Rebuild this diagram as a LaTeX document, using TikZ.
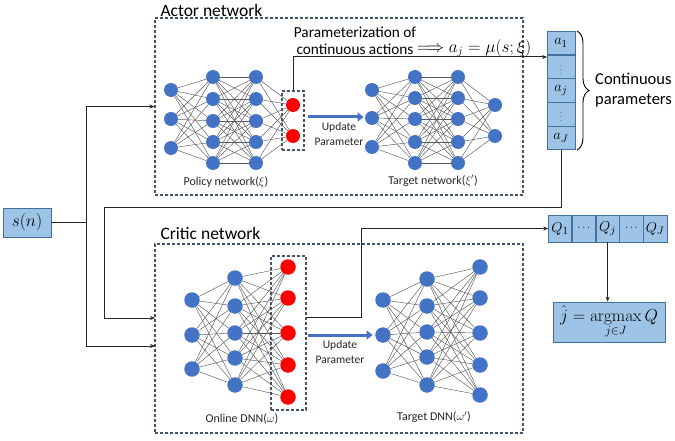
\documentclass[tikz,border=0pt]{standalone}
\usepackage[no-math]{fontspec}
\setmainfont{Carlito}
\usetikzlibrary{arrows.meta,decorations.pathreplacing,calc}
\definecolor{nblue}{HTML}{4472C4}
\definecolor{bfill}{HTML}{9DC3E6}
\definecolor{bline}{HTML}{41719C}
\definecolor{dline}{HTML}{44546A}
\newcommand{\mklayer}[4]{\foreach \yy [count=\ii] in {#3} {\node[#4] (#1-\ii) at (#2,\yy) {};}}
\newcommand{\mkconn}[4]{\foreach \ii in {1,...,#2} {\foreach \jj in {1,...,#4} {\draw[wire] (#1-\ii) -- (#3-\jj);}}}
\begin{document}
\begin{tikzpicture}[x=1pt,y=-1pt,
 an/.style={circle,fill=nblue,minimum size=14pt,inner sep=0pt},
 ar/.style={an,fill=red},
 cn/.style={circle,fill=nblue,minimum size=15.5pt,inner sep=0pt},
 cr/.style={cn,fill=red},
 wire/.style={draw=black!65,line width=0.45pt},
 dbox/.style={draw=dline,dash pattern=on 3pt off 2pt,line width=1.1pt,inner sep=0pt},
 title/.style={font=\fontsize{17.5}{20}\selectfont},
 lbl/.style={font=\fontsize{12}{14}\selectfont,text=black!85},
 updtext/.style={font=\fontsize{11.5}{15}\selectfont,align=center,text=black!85},
 cell/.style={draw=bline,fill=bfill,line width=0.8pt,inner sep=0pt,outer sep=0pt,minimum width=28pt,minimum height=23.4pt,font=\fontsize{15}{17}\selectfont},
 qcell/.style={cell,minimum width=23.4pt,minimum height=27pt},
 dots/.style={font=\fontsize{8}{8}\selectfont,text=black!60},
 conn/.style={draw=black!85,line width=1pt,-{Stealth[length=5pt,width=4pt]}},
 plain/.style={draw=black!85,line width=1pt},
 upd/.style={draw=nblue,line width=3pt,-{Triangle[length=6pt,width=9pt]}},
]
\useasboundingbox (0,0) rectangle (675,441);

% dashed frames
\node[dbox,minimum width=368pt,minimum height=177pt] (actorbox) at (339,106.5) {};
\node[dbox,minimum width=368pt,minimum height=189pt] (criticbox) at (339,338.5) {};
\node[dbox,minimum width=22pt,minimum height=59pt] (redA) at (293,120.5) {};
\node[dbox,minimum width=35pt,minimum height=154pt] (redC) at (288.5,333) {};

\node[title,anchor=west] (actortitle) at (157,10) {Actor network};
\node[title,anchor=west] (critictitle) at (157,233) {Critic network};

% policy network
\mklayer{pa}{171}{90,119,148}{an}
\mklayer{pb}{213}{77,99,121,142,163}{an}
\mklayer{pc}{256}{77,99,121,142,163}{an}
\mklayer{pd}{293}{105,136}{ar}
\mkconn{pa}{3}{pb}{5}
\mkconn{pb}{5}{pc}{5}
\mkconn{pc}{5}{pd}{2}

% actor target network
\mklayer{ta}{372}{90,118,147}{an}
\mklayer{tb}{415}{77,98,119,142,163}{an}
\mklayer{tc}{458}{77,98,119,142,163}{an}
\mklayer{td}{495}{105,136}{an}
\mkconn{ta}{3}{tb}{5}
\mkconn{tb}{5}{tc}{5}
\mkconn{tc}{5}{td}{2}

% online DNN
\mklayer{oa}{192}{300,335,369}{cn}
\mklayer{ob}{235}{278,306,333,358,385}{cn}
\mklayer{oc}{288}{267,298,333,365,397}{cr}
\mkconn{oa}{3}{ob}{5}
\mkconn{ob}{5}{oc}{5}

% target DNN
\mklayer{da}{383}{300,335,371}{cn}
\mklayer{db}{427}{279,306,332,357,385}{cn}
\mklayer{dc}{480}{267,298,333,365,395}{cn}
\mkconn{da}{3}{db}{5}
\mkconn{db}{5}{dc}{5}

% labels
\node[lbl] (plabel) at (226,182) {Policy network($\xi$)};
\node[lbl] (tlabel) at (433,181) {Target network($\xi'$)};
\node[lbl] (olabel) at (242,419) {Online DNN($\omega$)};
\node[lbl] (dlabel) at (434,417) {Target DNN($\omega'$)};

\node[updtext] (updA) at (339,134) {Update\\Parameter};
\node[updtext] (updC) at (340,352) {Update\\Parameter};
\draw[upd] ($(redA.east)+(3,-3.5)$) -- ++(56,0);
\draw[upd] ($(redC.east)+(1,2)$) -- ++(65,0);

\node[font=\fontsize{15.3}{17}\selectfont,align=center] (paramtext) at (355,41) {Parameterization of\\continuous actions};
\node[anchor=west,font=\fontsize{16}{18}\selectfont,inner sep=0pt] (formula) at (417,48) {$\Longrightarrow a_j = \mu(s;\xi)$};

% action vector
\node[cell] (a1) at (561,42.9) {$a_1$};
\node[cell,dots] (a2) at (561,66.7) {$\vdots$};
\node[cell] (a3) at (561,90.5) {$a_j$};
\node[cell,dots] (a4) at (561,114.3) {$\vdots$};
\node[cell] (a5) at (561,138.1) {$a_J$};
\draw[line width=0.9pt,decorate,decoration={brace,amplitude=12pt}] (577,31) -- (577,150);
\node[anchor=west,font=\fontsize{16.5}{20}\selectfont,align=left,inner sep=0pt] (ctext) at (595,90) {Continuous\\parameters};

% Q vector
\node[qcell] (q1) at (560,228.5) {$Q_1$};
\node[qcell,font=\fontsize{11}{11}\selectfont] (q2) at (583.8,228.5) {$\cdots$};
\node[qcell] (q3) at (607.6,228.5) {$Q_j$};
\node[qcell,font=\fontsize{11}{11}\selectfont] (q4) at (631.4,228.5) {$\cdots$};
\node[qcell] (q5) at (655.2,228.5) {$Q_J$};

\node[draw=bline,fill=bfill,line width=0.8pt,minimum width=112pt,minimum height=40pt,inner sep=0pt,font=\fontsize{17}{20}\selectfont] (argmax) at (609,322) {$\hat{j} = \mathop{\mathrm{argmax}}\limits_{j\in J} Q$};

% s(n)
\node[cell,minimum width=48pt,minimum height=29pt,font=\fontsize{17}{20}\selectfont] (sn) at (27,222.5) {$s(n)$};

% connectors
\coordinate (jn) at (86,222.5);
\coordinate (cin2) at (155,346);
\coordinate (loopA) at (104,207);
\coordinate (cin1) at (155,318);
\coordinate (bendC) at (361,317);
\draw[plain] (sn.east) -- (jn);
\draw[conn] (jn) |- (actorbox.west);
\draw[conn] (jn) |- (cin2);
\draw[conn] (redA.north) |- ($(a2.north west)+(0,2)$);
\draw[conn] (a5.south) |- (loopA) |- (cin1);
\draw[conn] ($(redC.east)+(0,-16)$) -- (bendC) |- (q1.west);
\draw[conn] (q3.south) -- (q3.south |- argmax.north);
\end{tikzpicture}
\end{document}
